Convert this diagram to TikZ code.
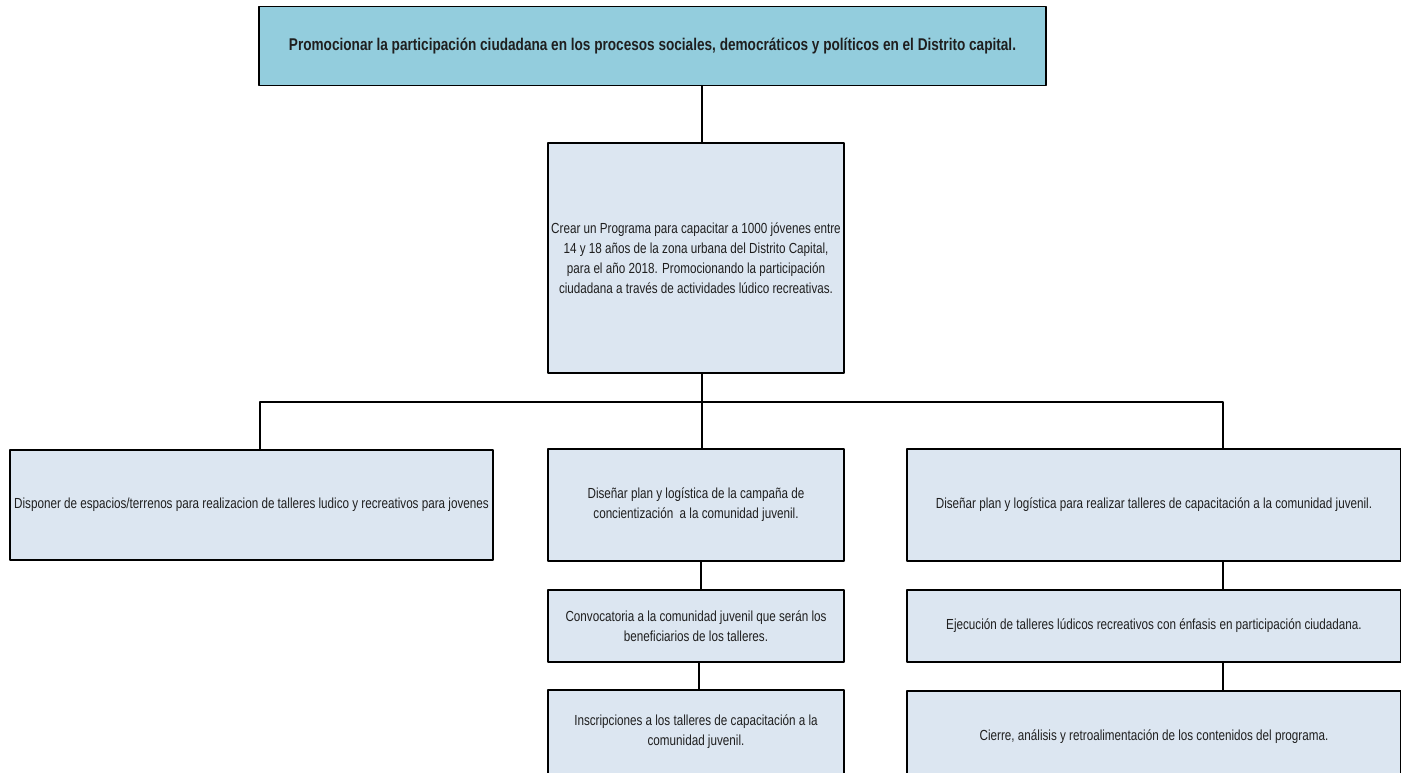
\documentclass[tikz,border=0pt]{standalone}
\usepackage{fontspec}
\setmainfont{Liberation Sans}[FakeStretch=0.8]
\usetikzlibrary{positioning}

\definecolor{metafill}{HTML}{93CDDD}
\definecolor{cajafill}{HTML}{DCE6F1}
\definecolor{textogris}{HTML}{1F1F1F}

\begin{document}
\begin{tikzpicture}[line cap=round,line join=round,x=1pt,y=-1pt,
  caja/.style={draw=black,line width=1.6pt,fill=cajafill,align=center,
    text=textogris,inner sep=0pt,font=\fontsize{14.6}{20}\selectfont},
  conector/.style={line width=2.8pt,color=black}]
\clip (0,0) rectangle (1401,773);
% objetivo general
\node[caja,fill=metafill,minimum width=787pt,minimum height=79pt,
  font=\bfseries\fontsize{17}{20}\selectfont] (meta) at (652.5,46)
  {Promocionar la participación ciudadana en los procesos sociales, democráticos y políticos en el Distrito capital.};
\node[caja,minimum width=296pt,minimum height=230pt] (prog) at (696,258)
  {Crear un Programa para capacitar a 1000 jóvenes entre\\14 y 18 años de la zona urbana del Distrito Capital,\\para el año 2018. Promocionando la participación\\ciudadana a través de actividades lúdico recreativas.};
% actividades
\node[caja,minimum width=483pt,minimum height=110pt] (espacios) at (251.5,505)
  {Disponer de espacios/terrenos para realizacion de talleres ludico y recreativos para jovenes};
\node[caja,minimum width=296pt,minimum height=112pt] (campana) at (696,505)
  {Diseñar plan y logística de la campaña de\\concientización\ \ a la comunidad juvenil.};
\node[caja,minimum width=296pt,minimum height=72pt] (convoca) at (696,626)
  {Convocatoria a la comunidad juvenil que serán los\\beneficiarios de los talleres.};
\node[caja,minimum width=296pt,minimum height=84pt] (inscrip) at (696,732)
  {Inscripciones a los talleres de capacitación a la\\comunidad juvenil.};
\node[caja,minimum width=494pt,minimum height=112pt] (talleres) at (1154,505)
  {Diseñar plan y logística para realizar talleres de capacitación a la comunidad juvenil.};
\node[caja,minimum width=494pt,minimum height=72pt] (ejecucion) at (1154,626)
  {Ejecución de talleres lúdicos recreativos con énfasis en participación ciudadana.};
\node[caja,minimum width=494pt,minimum height=92pt] (cierre) at (1154,737)
  {Cierre, análisis y retroalimentación de los contenidos del programa.};
% conectores
\coordinate (busL) at (260,402);
\coordinate (busR) at (1223,402);
\draw[conector] ([xshift=6pt]prog.north) -- ([xshift=6pt]prog.north |- meta.south);
\draw[conector] ([xshift=6pt]prog.south) -- ([xshift=6pt]prog.south |- busL);
\draw[conector] (busL |- espacios.north) -- (busL) -- (busR) -- (busR |- talleres.north);
\draw[conector] ([xshift=6pt]campana.north) -- ([xshift=6pt]campana.north |- busL);
\draw[conector] ([xshift=5pt]campana.south) -- ([xshift=5pt]convoca.north);
\draw[conector] ([xshift=3pt]convoca.south) -- ([xshift=3pt]inscrip.north);
\draw[conector] (busR |- talleres.south) -- (busR |- ejecucion.north);
\draw[conector] (busR |- ejecucion.south) -- (busR |- cierre.north);
\end{tikzpicture}
\end{document}
